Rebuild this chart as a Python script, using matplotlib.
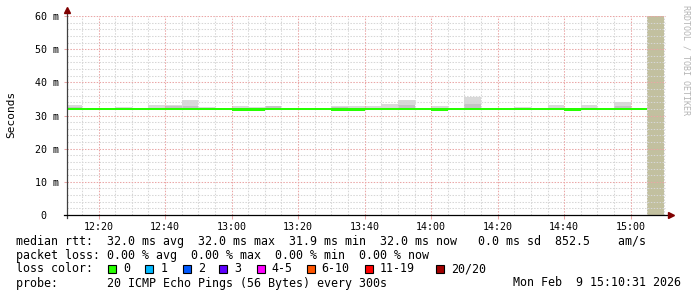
import numpy as np
import matplotlib
matplotlib.use("Agg")
import matplotlib.pyplot as plt
from matplotlib.lines import Line2D
from matplotlib.patches import Rectangle

plt.rcParams["font.family"] = ["DejaVu Sans Mono"]

W, H = 697, 297

# 5 minute slots, start times in minutes after midnight (12:10 ... 15:05)
slot_start = np.arange(730, 910, 5)
t0, t1 = 730 + 31 / 60, 910 + 31 / 60   # 12:10:31 .. 15:10:31

# median rtt per slot (ms), last slot has no data
median = [32.0, 32.0, 32.0, 32.0, 32.0, 32.0, 32.0, 32.0, 32.0, 32.0,
          31.9, 31.9, 32.0, 32.0, 32.0, 32.0, 31.9, 31.9, 32.0, 32.0,
          32.0, 32.0, 31.9, 32.0, 32.0, 32.0, 32.0, 32.0, 32.0, 32.0,
          31.9, 32.0, 32.0, 32.0, 32.0, np.nan]
# smoke: max ping and inner (darker) band top, ms
smoke_max = [33.2, np.nan, np.nan, 32.6, np.nan, 33.3, 33.3, 34.7, 32.6, np.nan,
             32.9, 32.7, 32.9, np.nan, np.nan, np.nan, 33.0, 33.0, 33.0, 33.6,
             34.6, np.nan, 32.9, np.nan, 35.7, np.nan, np.nan, 32.5, np.nan, 33.3,
             np.nan, 33.3, np.nan, 34.0, np.nan, np.nan]
smoke_mid = [32.6, np.nan, np.nan, np.nan, np.nan, np.nan, 32.8, 33.0, np.nan, np.nan,
             np.nan, np.nan, 32.9, np.nan, np.nan, np.nan, 32.6, np.nan, np.nan, np.nan,
             33.1, np.nan, np.nan, np.nan, 33.5, np.nan, np.nan, np.nan, np.nan, np.nan,
             np.nan, np.nan, np.nan, 33.0, np.nan, np.nan]
smoke_min = 31.8

yticks = [0, 10, 20, 30, 40, 50, 60]
ytick_labels = ["0\u00a0\u00a0", "10 m", "20 m", "30 m", "40 m", "50 m", "60 m"]
xticks = [740, 760, 780, 800, 820, 840, 860, 880, 900]
xtick_labels = ["12:20", "12:40", "13:00", "13:20", "13:40", "14:00", "14:20", "14:40", "15:00"]

loss_labels = ["0", "1", "2", "3", "4-5", "6-10", "11-19", "20/20"]
loss_colors = ["#26ff00", "#00b8ff", "#0059ff", "#5e00ff", "#ff00ff", "#ff5500", "#ff0000", "#a10000"]

line1 = "median rtt:  32.0 ms avg  32.0 ms max  31.9 ms min  32.0 ms now   0.0 ms sd  852.5    am/s"
line2 = "packet loss: 0.00 % avg  0.00 % max  0.00 % min  0.00 % now"
line4 = "probe:       20 ICMP Echo Pings (56 Bytes) every 300s"
stamp = "Mon Feb  9 15:10:31 2026"


def fx(px):
    return px / W


def fy(py):
    return 1 - py / H


fig = plt.figure(figsize=(W / 100, H / 100), dpi=100)
ax = fig.add_axes([fx(67), fy(215), (665.7 - 67) / W, (215 - 16) / H])
ax.set_xlim(t0, t1)
ax.set_ylim(0, 60)

med = np.array(median)
smax = np.array(smoke_max)
smid = np.array(smoke_mid)

# smoke
ax.bar(slot_start, smax - smoke_min, bottom=smoke_min, width=5, align="edge",
       color="#d9d9d9", linewidth=0, zorder=1)
ax.bar(slot_start, smid - smoke_min, bottom=smoke_min, width=5, align="edge",
       color="#c4c4c4", linewidth=0, zorder=1)

# unknown region
nodata = np.isnan(med)
ax.bar(slot_start[nodata], 60, bottom=0, width=5, align="edge",
       color="#c2c09f", linewidth=0, zorder=1)

# median line (drawn as a thin band)
top = np.maximum(med, 32.0) + 0.25
bot = np.where(med < 32.0, med - 0.55, med - 0.25)
ax.bar(slot_start, top - bot, bottom=bot, width=5, align="edge",
       color=loss_colors[0], linewidth=0, zorder=4)

# grid
dot = (0, (1.4, 1.4))
for t in np.arange(735, 911, 5):
    if t % 20 != 0:
        ax.axvline(t, color="#d6d6d6", lw=0.75, ls=dot, zorder=3)
for v in np.arange(2, 61, 2):
    if v % 10 != 0:
        ax.axhline(v, color="#d6d6d6", lw=0.75, ls=dot, zorder=3)
for t in xticks:
    ax.axvline(t, color="#eaa6a6", lw=0.75, ls=dot, zorder=3)
for v in yticks[1:]:
    ax.axhline(v, color="#eaa6a6", lw=0.75, ls=dot, zorder=3)

for s in ax.spines.values():
    s.set_visible(False)
ax.set_xticks(xticks)
ax.set_xticklabels(xtick_labels)
ax.set_yticks(yticks)
ax.set_yticklabels(ytick_labels)
ax.tick_params(axis="x", length=3, width=0.75, color="#eaa6a6", pad=2, labelsize=7.2)
ax.tick_params(axis="y", length=2, width=0.75, color="#eaa6a6", pad=4, labelsize=7.2)

# axes with arrows
fig.add_artist(Line2D([fx(67), fx(67)], [fy(218), fy(12)], color="#404040", lw=0.9))
fig.add_artist(Line2D([fx(64), fx(668)], [fy(215), fy(215)], color="#000000", lw=0.9))
fig.add_artist(Line2D([fx(67)], [fy(10)], marker="^", ms=4, color="#800000", lw=0))
fig.add_artist(Line2D([fx(671)], [fy(215)], marker=">", ms=4, color="#800000", lw=0))

fig.text(fx(11), fy(114), "Seconds", rotation=90, ha="center", va="center", fontsize=8)
fig.text(fx(686), fy(60), "RRDTOOL / TOBI OETIKER", rotation=270, ha="center", va="center",
         fontsize=6, color="#b4b4b4")

# legend
fs = 8.4
fig.text(fx(16), fy(241), line1, ha="left", va="center", fontsize=fs)
fig.text(fx(16), fy(255), line2, ha="left", va="center", fontsize=fs)
fig.text(fx(16), fy(269), "loss color:", ha="left", va="center", fontsize=fs)
box_x = [108.3, 145.3, 182.7, 219, 256.7, 306.7, 365, 436]
for bx, lab, col in zip(box_x, loss_labels, loss_colors):
    fig.add_artist(Rectangle((fx(bx), fy(272.5)), 8 / W, 8 / H, transform=fig.transFigure,
                             facecolor=col, edgecolor="black", lw=0.8))
    fig.text(fx(bx + 15), fy(269), lab, ha="left", va="center", fontsize=fs)
fig.text(fx(16), fy(283), line4, ha="left", va="center", fontsize=fs)
fig.text(fx(681), fy(283), stamp, ha="right", va="center", fontsize=fs)

fig.savefig("out.png", dpi=100, facecolor="white")
